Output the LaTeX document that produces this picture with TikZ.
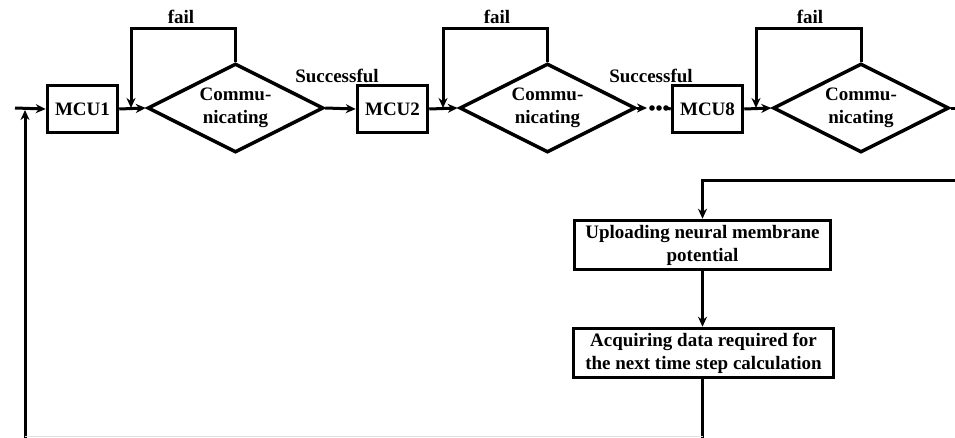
\documentclass[tikz,border=0pt]{standalone}
\usepackage{fontspec}
\setmainfont{Liberation Serif}
\usetikzlibrary{shapes.geometric,arrows.meta}
\begin{document}
\begin{tikzpicture}[x=1pt,y=-1pt,
  font=\fontsize{19}{23}\selectfont\bfseries,
  mcu/.style={draw,line width=3.5pt,inner sep=0pt,minimum width=70pt,minimum height=47pt},
  stepbox/.style={draw,line width=3.5pt,inner sep=0pt,minimum height=49pt,align=center},
  decide/.style={draw,diamond,shape aspect=2,line width=3.5pt,inner sep=0pt,minimum width=176pt,minimum height=89pt,align=center},
  link/.style={line width=3pt},
  arr/.style={link,-{Stealth[length=10pt,width=9pt]}},
  lbl/.style={inner sep=0pt}]
\clip (0,0) rectangle (955,437);

% first stage
\node[mcu] (m1) at (82.5,109) {MCU1};
\node[decide] (d1) at (235.5,108) {Commu-\\nicating};
% second stage
\node[mcu] (m2) at (392.5,109) {MCU2};
\node[decide] (d2) at (547.5,108) {Commu-\\nicating};
% last stage
\node[mcu] (m8) at (707.5,109) {MCU8};
\node[decide] (d3) at (861,108) {Commu-\\nicating};

% upload / acquire steps
\node[stepbox,minimum width=256pt] (up) at (702.5,245) {Uploading neural membrane\\potential};
\node[stepbox,minimum width=260pt] (acq) at (703.5,353) {Acquiring data required for\\the next time step calculation};

% helper coordinates
\coordinate (in) at (15,108);
\coordinate (lb) at (25,440);
\coordinate (lt) at (25,110);
\coordinate (f1) at (131,108);
\coordinate (f2) at (443,108);
\coordinate (f3) at (756,108);
\coordinate (dots) at (647,108);
\coordinate (out) at (968,108);
\coordinate (ret) at (960,180);
\coordinate (bot) at (702.5,440);

% main chain
\draw[arr] (in) -- (m1.west);
\draw[arr] (lb) -- (lt);
\draw[arr] (m1.east) -- (d1.west);
\draw[arr] (d1.east) -- (m2.west);
\draw[arr] (m2.east) -- (d2.west);
\draw[arr] (d2.east) -- (dots);
\foreach \px in {652,659,666} \fill (\px,108) circle (2.8pt);
\draw[link] (666,108) -- (m8.west);
\draw[arr] (m8.east) -- (d3.west);
\draw[arr] (d3.east) -- (out);

% retry loops
\draw[arr] (d1.north) |- (d1.north |- 0,28) -| (f1);
\draw[arr] (d2.north) |- (d2.north |- 0,28) -| (f2);
\draw[arr] (d3.north) |- (d3.north |- 0,28) -| (f3);
\node[lbl] at (181,17) {fail};
\node[lbl] at (497,17) {fail};
\node[lbl] at (810,17) {fail};
\node[lbl] at (337,76) {Successful};
\node[lbl] at (651,76) {Successful};

% return path
\draw[arr] (ret) -| (up.north);
\draw[arr] (up.south) -- (up.south |- acq.north);
\draw[link] (acq.south -| up.south) -- (bot);
\draw[black!12,line width=1pt] (25,436.5) -- (702.5,436.5);
\end{tikzpicture}
\end{document}
